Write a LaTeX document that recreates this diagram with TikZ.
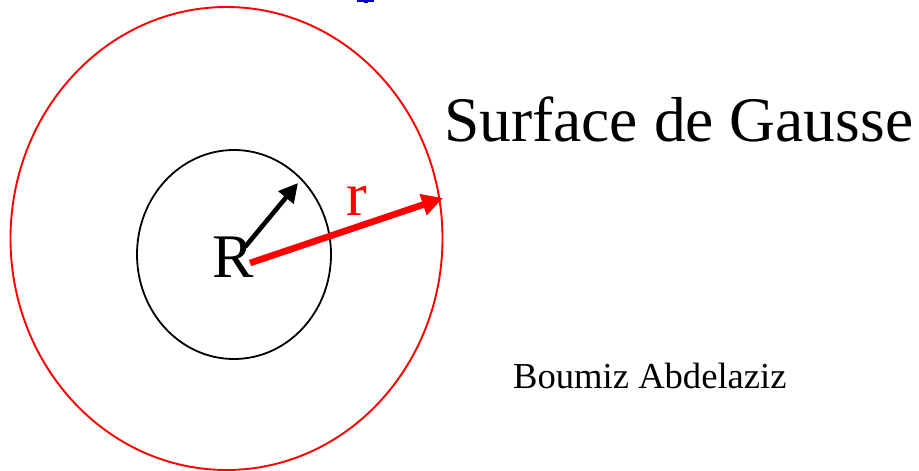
\documentclass[tikz,border=0pt]{standalone}
\usepackage{fontspec}
\setmainfont{Liberation Serif}
\usetikzlibrary{arrows.meta}
\begin{document}
\begin{tikzpicture}[x=1pt,y=-1pt,
  lbl/.style={inner sep=0pt,anchor=base west},
  gauss/.style={draw=red,line width=1.9pt},
  sphere/.style={draw=black,line width=1.8pt},
  blackarrow/.style={draw=black,line width=4.6pt,-{Triangle[length=19pt,width=19pt]}},
  redarrow/.style={draw=red,line width=6.6pt,-{Triangle[length=21pt,width=21pt]}}]
\useasboundingbox (0,0) rectangle (919,471);
% cut-off blue fragment at the top
\fill[blue!75!black] (357,0) rectangle (374,2.4);
\fill[blue!75!black] (363.5,0) rectangle (367.5,3);
% Gauss surface and sphere
\draw[gauss] (226.5,238.5) ellipse [x radius=216, y radius=231.5];
\draw[sphere] (234,254.5) ellipse [x radius=97, y radius=104.5];
% centre points and arrow ends
\coordinate (bstart) at (245,247);
\coordinate (btip) at (298,183);
\coordinate (rstart) at (250,263);
\coordinate (rtip) at (443,198);
\draw[blackarrow] (bstart) -- (btip);
\draw[redarrow] (rstart) -- (rtip);
% labels
\node[lbl,font=\fontsize{62}{62}\selectfont] (R) at (212,277) {R};
\node[lbl,font=\fontsize{62}{62}\selectfont,text=red] (r) at (346,215) {r};
\node[lbl,font=\fontsize{63.5}{63.5}\selectfont] (title) at (444,141) {Surface de Gausse};
\node[lbl,font=\fontsize{36.6}{36.6}\selectfont] (author) at (513,388) {Boumiz Abdelaziz};
\end{tikzpicture}
\end{document}
